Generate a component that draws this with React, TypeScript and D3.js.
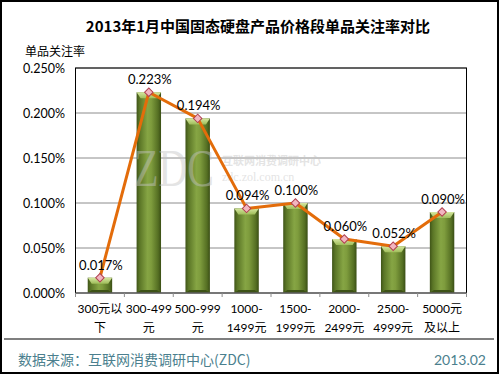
import React from "react";
import * as d3 from "d3";

const categories: string[][] = [
  ["300元以", "下"],
  ["300-499", "元"],
  ["500-999", "元"],
  ["1000-", "1499元"],
  ["1500-", "1999元"],
  ["2000-", "2499元"],
  ["2500-", "4999元"],
  ["5000元", "及以上"],
];
const values: number[] = [0.017, 0.223, 0.194, 0.094, 0.1, 0.06, 0.052, 0.09];
const yTicks: number[] = [0, 0.05, 0.1, 0.15, 0.2, 0.25];
const title = "2013年1月中国固态硬盘产品价格段单品关注率对比";
const yTitle = "单品关注率";
const source = "数据来源：互联网消费调研中心(ZDC)";
const dateText = "2013.02";

const W = 500, H = 375;
const plot = { left: 75.5, right: 466.5, top: 68, bottom: 293 };
const font = "Lato, 'Noto Sans CJK SC', sans-serif";
const cjk = "'Noto Sans CJK SC', sans-serif";

export default function App() {
  const x = d3
    .scaleBand<number>()
    .domain(d3.range(values.length))
    .range([plot.left, plot.right])
    .paddingInner(0.5)
    .paddingOuter(0.25);
  const y = d3.scaleLinear().domain([0, 0.25]).range([plot.bottom, plot.top]);
  const bw = x.bandwidth();
  const step = x.step();
  const cx = (i: number) => (x(i) as number) + bw / 2;
  const line = d3
    .line<number>()
    .x((_, i) => cx(i))
    .y((d) => y(d));

  return (
    <svg
      width={W}
      height={H}
      style={{ position: "absolute", left: 0, top: 0, background: "#fff" }}
    >
      <defs>
        <linearGradient id="barG" x1="0" x2="1" y1="0" y2="0">
          <stop offset="0" stopColor="#3f5418" />
          <stop offset="0.12" stopColor="#5a7526" />
          <stop offset="0.45" stopColor="#86a544" />
          <stop offset="0.6" stopColor="#7e9c3d" />
          <stop offset="0.88" stopColor="#556f23" />
          <stop offset="1" stopColor="#3a4e15" />
        </linearGradient>
        <linearGradient id="topG" x1="0" x2="0" y1="0" y2="1">
          <stop offset="0" stopColor="#d6e7a0" />
          <stop offset="1" stopColor="#9fbd5a" />
        </linearGradient>
      </defs>
      <rect x={1} y={1} width={497} height={372} fill="#fff" stroke="#000" strokeWidth={2} />
      <text x={258} y={32} textAnchor="middle" fontFamily={cjk} fontWeight="bold" fontSize={15} fill="#000">
        {title}
      </text>
      <text x={25} y={56} fontFamily={cjk} fontSize={12} fill="#000">
        {yTitle}
      </text>

      {/* gridlines */}
      {yTicks.map((t) => (
        <line key={t} x1={plot.left} x2={plot.right} y1={y(t)} y2={y(t)} stroke="#8c8c8c" strokeWidth={1} />
      ))}
      {yTicks.map((t) => (
        <text key={"l" + t} x={65} y={y(t) + 4.5} textAnchor="end" fontFamily={font} fontSize={12.5} fill="#000">
          {t.toFixed(3) + "%"}
        </text>
      ))}

      {/* bars */}
      {values.map((v, i) => {
        const x0 = x(i) as number;
        const y0 = y(v);
        const h = plot.bottom - y0;
        const bev = Math.min(6, h / 2);
        return (
          <g key={i}>
            <rect x={x0} y={y0} width={bw} height={h} fill="url(#barG)" />
            <polygon
              points={`${x0},${y0} ${x0 + bw},${y0} ${x0 + bw - 4},${y0 + bev} ${x0 + 4},${y0 + bev}`}
              fill="url(#topG)"
            />
            <polygon
              points={`${x0},${plot.bottom} ${x0 + bw},${plot.bottom} ${x0 + bw - 4},${plot.bottom - 3} ${x0 + 4},${plot.bottom - 3}`}
              fill="#3d5216"
            />
          </g>
        );
      })}

      {/* watermark */}
      <g opacity={0.45}>
        <g transform="translate(134,186) scale(1,1.3)">
          <text x={0} y={0} fontFamily="'Liberation Serif', serif" fontSize={40} fill="#c4c4c4">
            ZDC
          </text>
        </g>
        <text x={222} y={165} fontFamily={cjk} fontWeight="bold" fontSize={11} fill="#c4c4c4">
          互联网消费调研中心
        </text>
        <text x={222} y={181} fontFamily="'Liberation Serif', serif" fontSize={12} fill="#c4c4c4">
          zdc.zol.com.cn
        </text>
      </g>

      {/* plot frame */}
      <rect x={plot.left} y={plot.top} width={plot.right - plot.left} height={plot.bottom - plot.top} fill="none" stroke="#000" strokeWidth={1} />
      <line x1={plot.left} x2={plot.right} y1={plot.bottom} y2={plot.bottom} stroke="#8c8c8c" strokeWidth={1} />
      {d3.range(values.length + 1).map((i) => (
        <line key={"t" + i} x1={plot.left + i * step} x2={plot.left + i * step} y1={plot.bottom} y2={plot.bottom + 4} stroke="#8c8c8c" />
      ))}

      {/* line */}
      <path d={line(values) || ""} fill="none" stroke="#e36c0a" strokeWidth={3} strokeLinejoin="round" />
      {values.map((v, i) => (
        <rect
          key={"m" + i}
          x={cx(i) - 3}
          y={y(v) - 3}
          width={6}
          height={6}
          transform={`rotate(45 ${cx(i)} ${y(v)})`}
          fill="#f2b6c0"
          stroke="#b04050"
          strokeWidth={1}
        />
      ))}
      {values.map((v, i) => (
        <text key={"v" + i} x={cx(i) + 1} y={y(v) - 8} textAnchor="middle" fontFamily={font} fontSize={13} fill="#000">
          {v.toFixed(3) + "%"}
        </text>
      ))}

      {/* x labels */}
      {categories.map((c, i) => (
        <g key={"c" + i}>
          {c.map((s, j) => (
            <text key={j} x={cx(i)} y={313 + j * 19} textAnchor="middle" fontFamily={font} fontSize={12} fill="#000">
              {s}
            </text>
          ))}
        </g>
      ))}

      <line x1={4} x2={494} y1={339} y2={339} stroke="#000" strokeWidth={1.2} />
      <text x={18} y={365} fontFamily={cjk} fontSize={14} fill="#4b7f8e">
        {source}
      </text>
      <text x={486} y={365} textAnchor="end" fontFamily={font} fontSize={14} fill="#4b7f8e">
        {dateText}
      </text>
    </svg>
  );
}
